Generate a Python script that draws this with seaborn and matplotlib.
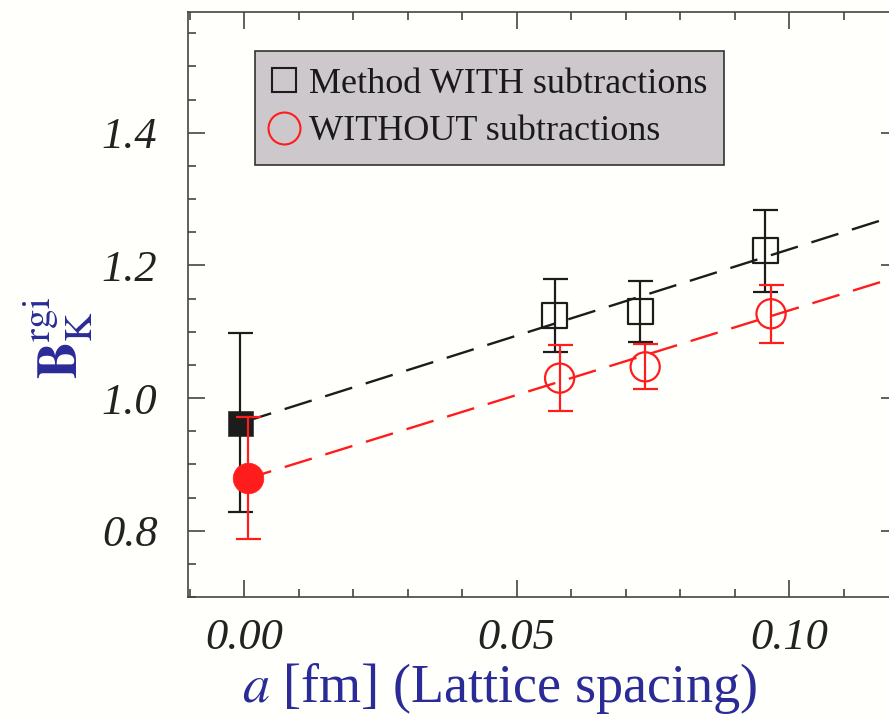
import matplotlib
matplotlib.use("Agg")
import matplotlib.pyplot as plt
import seaborn as sns
import pandas as pd
from matplotlib.lines import Line2D
from matplotlib.ticker import MultipleLocator, FixedLocator

# ---------------- data ----------------
a_with = [0.0570, 0.0727, 0.0956]
b_with = [1.124, 1.131, 1.222]
err_with = [0.055, 0.046, 0.062]

a_without = [0.0579, 0.0736, 0.0967]
b_without = [1.030, 1.047, 1.127]
err_without = [0.050, 0.034, 0.044]

a_cont_with = [-0.0007]
b_cont_with = [0.963]
err_cont_with = [0.135]

a_cont_without = [0.0007]
b_cont_without = [0.879]
err_cont_without = [0.092]

fit_a = [0.0, 0.12]
fit_with = [0.964, 1.276]
fit_without = [0.877, 1.183]

x_ticks = [0.00, 0.05, 0.10]
x_tick_labels = ["0.00", "0.05", "0.10"]
y_ticks = [0.8, 1.0, 1.2, 1.4]
y_tick_labels = ["0.8", "1.0", "1.2", "1.4"]
legend_labels = ["Method WITH subtractions", "WITHOUT subtractions"]
x_label = r"$a$ [fm] (Lattice spacing)"
y_label = r"$\mathbf{B}_{\mathrm{K}}^{\mathrm{rgi}}$"

# ---------------- style ----------------
sns.set_style("ticks")
plt.rcParams["font.family"] = ["Liberation Serif", "DejaVu Serif"]
plt.rcParams["mathtext.fontset"] = "stix"

BLACK = "#1c1c1c"
RED = "#ff1c1c"
BLUE = "#2b2b98"
SPINE = "#444444"

fig = plt.figure(figsize=(8.89, 7.18), dpi=100)
fig.patch.set_facecolor("#fffffb")
ax = fig.add_axes([188 / 889, 1 - 597 / 718, (898 - 188) / 889, (597 - 12) / 718])
ax.set_facecolor("#fffffb")

df_fit = pd.DataFrame({"a": fit_a * 2,
                       "B": fit_with + fit_without,
                       "s": ["with"] * 2 + ["without"] * 2})

# fit lines
sns.lineplot(data=df_fit[df_fit.s == "with"], x="a", y="B", ax=ax, color=BLACK,
             lw=1.7, dashes=False, zorder=2)
sns.lineplot(data=df_fit[df_fit.s == "without"], x="a", y="B", ax=ax, color=RED,
             lw=1.7, dashes=False, zorder=2)
for ln in ax.lines:
    ln.set_dashes((12, 6))

# error bars
ekw = dict(fmt="none", elinewidth=1.6, capthick=1.6, capsize=9, zorder=3)
ax.errorbar(a_with, b_with, yerr=err_with, ecolor=BLACK, **ekw)
ax.errorbar(a_cont_with, b_cont_with, yerr=err_cont_with, ecolor=BLACK, **ekw)
ax.errorbar(a_without, b_without, yerr=err_without, ecolor=RED, **ekw)
ax.errorbar(a_cont_without, b_cont_without, yerr=err_cont_without, ecolor=RED, **ekw)

# markers
sns.scatterplot(x=a_with, y=b_with, ax=ax, marker="s", s=18 ** 2,
                facecolor="none", edgecolor=BLACK, linewidth=1.6, zorder=4)
sns.scatterplot(x=a_without, y=b_without, ax=ax, marker="o", s=21 ** 2,
                facecolor="none", edgecolor=RED, linewidth=1.6, zorder=4)
sns.scatterplot(x=a_cont_with, y=b_cont_with, ax=ax, marker="s", s=18 ** 2,
                color=BLACK, edgecolor="#333333", linewidth=0.5, zorder=2.5)
sns.scatterplot(x=a_cont_without, y=b_cont_without, ax=ax, marker="o", s=22 ** 2,
                color=RED, edgecolor=RED, linewidth=0.5, zorder=4)

# axes
ax.set_xlim(-0.0103, 0.12)
ax.set_ylim(0.70, 1.582)
ax.xaxis.set_major_locator(FixedLocator(x_ticks))
ax.set_xticklabels(x_tick_labels)
ax.xaxis.set_minor_locator(MultipleLocator(0.01))
ax.yaxis.set_major_locator(FixedLocator(y_ticks))
ax.set_yticklabels(y_tick_labels)
ax.yaxis.set_minor_locator(MultipleLocator(0.05))

ax.tick_params(which="both", direction="in", top=True, right=True, color=SPINE,
               width=1.2)
ax.tick_params(which="major", length=12)
ax.tick_params(which="minor", length=6)
ax.tick_params(axis="y", which="major", labelsize=32, pad=22, labelcolor="#222222")
ax.tick_params(axis="x", which="major", labelsize=32, pad=15, labelcolor="#222222")
for lab in ax.get_xticklabels() + ax.get_yticklabels():
    lab.set_fontstyle("italic")
for sp in ax.spines.values():
    sp.set_color(SPINE)
    sp.set_linewidth(1.2)

ax.set_xlabel("")
ax.set_ylabel("")
fig.text(500 / 889, 1 - 688 / 718, x_label, fontsize=39, color=BLUE,
         ha="center", va="center")
fig.text(58 / 889, 1 - 338 / 718, y_label, fontsize=40, color=BLUE,
         ha="center", va="center", rotation=90)

# legend
handles = [
    Line2D([], [], ls="none", marker="s", ms=17, mfc="none", mec=BLACK, mew=1.5),
    Line2D([], [], ls="none", marker="o", ms=23, mfc="none", mec=RED, mew=1.5),
]
leg = ax.legend(handles, legend_labels, loc="upper left",
                bbox_to_anchor=((255 - 188) / 710, (597 - 51) / 585),
                borderaxespad=0, fontsize=26, frameon=True, fancybox=False,
                framealpha=1, facecolor="#cdc8cc", edgecolor="#333333",
                handlelength=0.7, handletextpad=0.35, borderpad=0.45,
                labelspacing=0.4)
leg.get_frame().set_linewidth(1.2)
for t in leg.get_texts():
    t.set_color("#1a1a1a")

fig.savefig("out.png", dpi=100, facecolor=fig.get_facecolor())
